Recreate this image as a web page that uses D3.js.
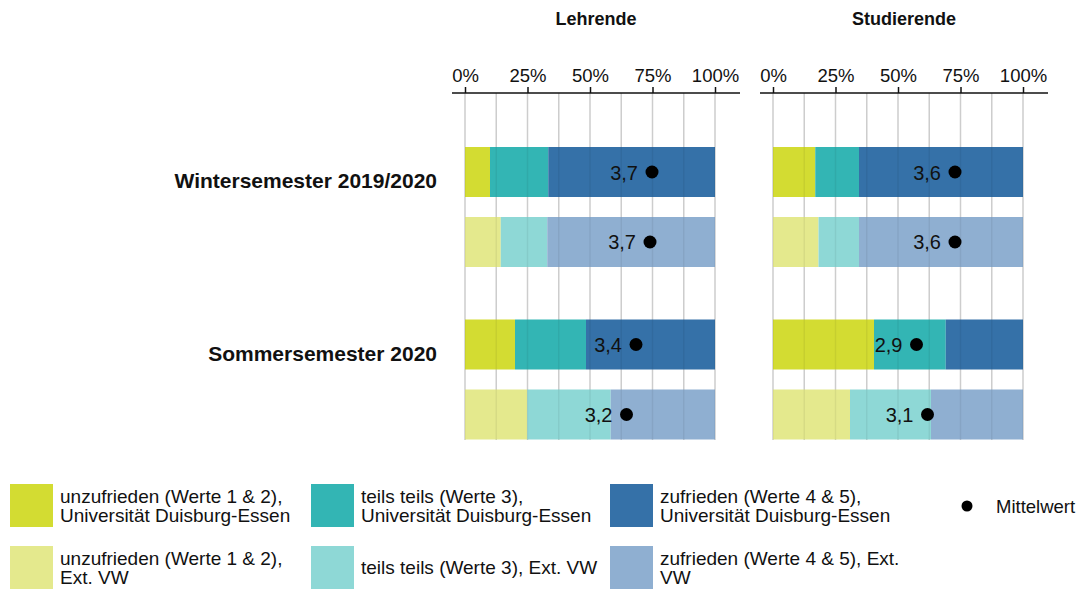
<!DOCTYPE html>
<html><head><meta charset="utf-8">
<script src="https://cdn.jsdelivr.net/npm/d3@7"></script>
<style>
html,body{margin:0;padding:0;background:#fff;}
svg{display:block;font-family:"Liberation Sans",Arial,sans-serif;}
</style></head>
<body>
<svg id="chart" width="1083" height="589"></svg>
<script>
// ---- data ----
const semesters = ["Wintersemester 2019/2020", "Sommersemester 2020"];
const panels = ["Lehrende", "Studierende"];
const sources = ["UDE", "Ext"];
const ticks = [0, 25, 50, 75, 100];
const tickLabels = ["0%", "25%", "50%", "75%", "100%"];

// Lehrende, Universität Duisburg-Essen
const lehrUdeUnz = [10.0, 20.0];
const lehrUdeTeils = [23.3, 28.4];
const lehrUdeZuf = [66.7, 51.6];
const lehrUdeMean = [3.74, 3.42];
// Lehrende, Ext. VW
const lehrExtUnz = [14.3, 24.9];
const lehrExtTeils = [18.6, 33.4];
const lehrExtZuf = [67.1, 41.7];
const lehrExtMean = [3.70, 3.23];
// Studierende, Universität Duisburg-Essen
const studUdeUnz = [16.9, 40.4];
const studUdeTeils = [17.5, 28.7];
const studUdeZuf = [65.6, 30.9];
const studUdeMean = [3.64, 2.87];
// Studierende, Ext. VW
const studExtUnz = [18.2, 30.8];
const studExtTeils = [16.2, 32.4];
const studExtZuf = [65.6, 36.8];
const studExtMean = [3.64, 3.09];

const categories = ["unz", "teils", "zuf"];
const colors = {
  UDE: {unz: "#d3dc32", teils: "#33b5b4", zuf: "#3571a8"},
  Ext: {unz: "#e4e98d", teils: "#8ed8d6", zuf: "#8fafd1"}
};
const legendItems = [
  {src: "UDE", cat: "unz", lines: ["unzufrieden (Werte 1 & 2),", "Universität Duisburg-Essen"]},
  {src: "UDE", cat: "teils", lines: ["teils teils (Werte 3),", "Universität Duisburg-Essen"]},
  {src: "UDE", cat: "zuf", lines: ["zufrieden (Werte 4 & 5),", "Universität Duisburg-Essen"]},
  {src: "Ext", cat: "unz", lines: ["unzufrieden (Werte 1 & 2),", "Ext. VW"]},
  {src: "Ext", cat: "teils", lines: ["teils teils (Werte 3), Ext. VW"]},
  {src: "Ext", cat: "zuf", lines: ["zufrieden (Werte 4 & 5), Ext.", "VW"]}
];

const dataset = {
  Lehrende: {
    UDE: {unz: lehrUdeUnz, teils: lehrUdeTeils, zuf: lehrUdeZuf, mean: lehrUdeMean},
    Ext: {unz: lehrExtUnz, teils: lehrExtTeils, zuf: lehrExtZuf, mean: lehrExtMean}
  },
  Studierende: {
    UDE: {unz: studUdeUnz, teils: studUdeTeils, zuf: studUdeZuf, mean: studUdeMean},
    Ext: {unz: studExtUnz, teils: studExtTeils, zuf: studExtZuf, mean: studExtMean}
  }
};

// ---- layout ----
const svg = d3.select("#chart");
const panelRange = {Lehrende: [465, 715], Studierende: [773, 1023]};
const yOuter = d3.scalePoint().domain(semesters).range([207, 379.5]);
const yInner = d3.scaleBand().domain(sources).range([-60, 60]).paddingInner(0.2857).paddingOuter(0);
const axisY = 93, gridBottom = 440;
const fmt = v => v.toFixed(1).replace(".", ",");

panels.forEach(p => {
  const x = d3.scaleLinear().domain([0, 100]).range(panelRange[p]);
  const g = svg.append("g");
  const gridVals = d3.range(0, 101, 12.5);
  g.selectAll("line.grid").data(gridVals).join("line")
    .attr("x1", d => x(d)).attr("x2", d => x(d))
    .attr("y1", axisY).attr("y2", gridBottom)
    .attr("stroke", "#dadada").attr("stroke-width", 1.5);
  semesters.forEach((s, si) => {
    sources.forEach(src => {
      const rec = dataset[p][src];
      let cum = 0;
      const y0 = yOuter(s) + yInner(src);
      categories.forEach(c => {
        const v = rec[c][si];
        g.append("rect")
          .attr("x", x(cum)).attr("y", y0)
          .attr("width", x(cum + v) - x(cum))
          .attr("height", yInner.bandwidth())
          .attr("fill", colors[src][c]);
        cum += v;
      });
    });
  });
  g.selectAll("line.gridover").data(gridVals).join("line")
    .attr("x1", d => x(d)).attr("x2", d => x(d))
    .attr("y1", axisY).attr("y2", gridBottom)
    .attr("stroke", "#000").attr("stroke-opacity", 0.06).attr("stroke-width", 1.5);
  semesters.forEach((s, si) => {
    sources.forEach(src => {
      const m = dataset[p][src].mean[si];
      const cy = yOuter(s) + yInner(src) + yInner.bandwidth() / 2;
      const cx = x(m / 5 * 100);
      g.append("circle").attr("cx", cx).attr("cy", cy).attr("r", 6.5).attr("fill", "#000");
      g.append("text").attr("x", cx - 14).attr("y", cy + 7.5)
        .attr("text-anchor", "end").attr("font-size", 20).attr("fill", "#111")
        .text(fmt(m));
    });
  });
  const axis = d3.axisTop(x).tickValues(ticks).tickFormat((d, i) => tickLabels[i]).tickSize(6).tickPadding(5);
  const ag = g.append("g").attr("transform", `translate(0,${axisY})`).call(axis);
  ag.select(".domain").remove();
  ag.selectAll(".tick line").attr("stroke", "#111").attr("stroke-width", 1.5);
  ag.selectAll(".tick text").attr("font-size", 18.5).attr("fill", "#111")
    .attr("font-family", "Liberation Sans, Arial, sans-serif").attr("dy", 0).attr("y", -11.5);
  g.append("line").attr("x1", x(0) - 13).attr("x2", x(100) + 25)
    .attr("y1", axisY).attr("y2", axisY).attr("stroke", "#111").attr("stroke-width", 1.5);
  g.append("text").attr("x", (x(0) - 13 + x(100) + 25) / 2).attr("y", 25)
    .attr("text-anchor", "middle").attr("font-size", 18).attr("font-weight", "bold")
    .attr("fill", "#111").text(p);
});

svg.selectAll("text.row").data(semesters).join("text")
  .attr("x", 437).attr("y", d => yOuter(d) - 19)
  .attr("text-anchor", "end").attr("font-size", 21).attr("font-weight", "bold")
  .attr("fill", "#111").text(d => d);

const legX = [10, 311, 610];
const legY = [484, 546];
legendItems.forEach((it, i) => {
  const col = i % 3, row = Math.floor(i / 3);
  const lg = svg.append("g").attr("transform", `translate(${legX[col]},${legY[row]})`);
  lg.append("rect").attr("width", 43).attr("height", 43).attr("fill", colors[it.src][it.cat]);
  const t = lg.append("text").attr("font-size", 19).attr("fill", "#111");
  const baseY = it.lines.length === 1 ? 28 : 19;
  it.lines.forEach((l, li) => {
    t.append("tspan").attr("x", 50).attr("y", baseY + li * 19).text(l);
  });
});
svg.append("circle").attr("cx", 967).attr("cy", 506).attr("r", 5.5).attr("fill", "#000");
svg.append("text").attr("x", 996).attr("y", 513).attr("font-size", 18.5).attr("fill", "#111").text("Mittelwert");
</script>
</body></html>
